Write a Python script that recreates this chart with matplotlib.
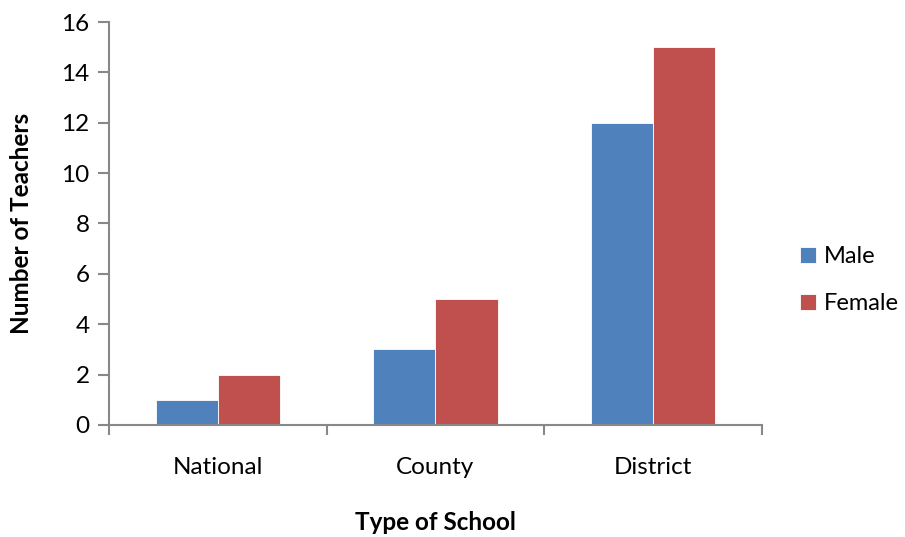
import matplotlib
matplotlib.use("Agg")
import matplotlib.pyplot as plt
import numpy as np

categories = ["National", "County", "District"]
male = [1, 3, 12]
female = [2, 5, 15]
series_names = ["Male", "Female"]
colors = ["#4F81BD", "#C0504D"]

plt.rcParams['font.family'] = ['Lato', 'DejaVu Sans']
fs = 17.5

fig = plt.figure(figsize=(9.05, 5.37), dpi=100)
ax = fig.add_axes([0.1204, 0.2086, 0.7216, 0.7504])

x = np.arange(len(categories))
w = 0.285
ax.bar(x - w / 2, male, w, color=colors[0], edgecolor="white", linewidth=0.6, label=series_names[0])
ax.bar(x + w / 2, female, w, color=colors[1], edgecolor="white", linewidth=0.6, label=series_names[1])

ax.set_xlim(-0.5, len(categories) - 0.5)
ax.set_ylim(0, 16)
ax.set_yticks(np.arange(0, 17, 2))

ax.set_xticks(x)
ax.set_xticklabels(categories, fontsize=fs)
ax.tick_params(axis="x", length=0, pad=23)
ax.set_xticks(np.arange(-0.5, len(categories), 1), minor=True)
ax.tick_params(axis="x", which="minor", length=7, width=1.5, color="#888888", direction="out")
ax.tick_params(axis="y", length=8, width=1.5, color="#888888", labelsize=fs, pad=6)

for side in ["top", "right"]:
    ax.spines[side].set_visible(False)
for side in ["left", "bottom"]:
    ax.spines[side].set_color("#888888")
    ax.spines[side].set_linewidth(1.5)

ax.set_ylabel("Number of Teachers", fontsize=fs, fontweight="bold", labelpad=20)
ax.set_xlabel("Type of School", fontsize=fs, fontweight="bold", labelpad=24)

fig.legend(loc="center left", bbox_to_anchor=(0.866, 0.478), frameon=False,
           fontsize=17, handlelength=0.65, handleheight=0.65, handletextpad=0.35,
           labelspacing=1.1, borderpad=0.2)

fig.savefig("out.png", dpi=100)
